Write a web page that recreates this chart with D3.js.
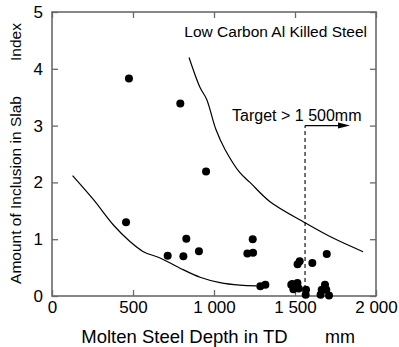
<!DOCTYPE html>
<html>
<head>
<meta charset="utf-8">
<script src="https://cdn.jsdelivr.net/npm/d3@7"></script>
<style>
  html, body { margin: 0; padding: 0; background: #fff; }
  svg { display: block; font-family: "Liberation Sans", Arial, sans-serif; }
</style>
</head>
<body>
<svg id="chart" width="399" height="347"></svg>
<script>
// ---- data ----
const depthMM = [475, 792, 951, 457, 714, 811, 829, 907, 1206, 1241, 1239, 1286, 1317,
  1477, 1490, 1515, 1523, 1516, 1529, 1568, 1566, 1607, 1658, 1665, 1685, 1693, 1710, 1696, 1483];
const inclusionIndex = [3.83, 3.39, 2.19, 1.30, 0.71, 0.70, 1.01, 0.79, 0.75, 0.76, 1.00, 0.17, 0.20,
  0.20, 0.12, 0.23, 0.13, 0.56, 0.61, 0.11, 0.02, 0.58, 0.02, 0.11, 0.20, 0.11, 0.01, 0.74, 0.21];

const upperCurveX = [846, 914, 955, 1012, 1068, 1160, 1222, 1346, 1562, 1735, 1920];
const upperCurveY = [4.20, 3.67, 3.46, 2.93, 2.58, 2.17, 2.00, 1.66, 1.29, 1.02, 0.78];

const lowerCurveX = [127, 255, 379, 481, 564, 667, 790, 914, 1037, 1160, 1263];
const lowerCurveY = [2.12, 1.70, 1.25, 0.96, 0.78, 0.67, 0.49, 0.33, 0.235, 0.19, 0.177];

const xTicks = [0, 500, 1000, 1500, 2000];
const yTicks = [0, 1, 2, 3, 4, 5];

const targetX = 1562;       // dashed line position
const targetTopY = 3.0;     // top of dashed line
const targetArrowEndX = 1840;

const titleText = "Low Carbon Al Killed Steel";
const targetText = "Target > 1 500mm";
const xTitle = "Molten Steel Depth in TD";
const xUnit = "mm";
const yTitle = "Amount of Inclusion in Slab";
const yUnit = "Index";

// ---- layout ----
const svg = d3.select("#chart");
const L = 52, R = 376, T = 12, B = 296;
const x = d3.scaleLinear().domain([0, 2000]).range([L, R]);
const y = d3.scaleLinear().domain([0, 5]).range([B, T]);

const loc = d3.formatLocale({decimal: ".", thousands: " ", grouping: [3], currency: ["", ""]});
const fmt = loc.format(",");

const frameColor = "#6a6a6a";

// axes
const gB = svg.append("g").attr("transform", `translate(0,${B})`)
  .call(d3.axisBottom(x).tickValues(xTicks).tickFormat(fmt).tickSizeInner(-6).tickSizeOuter(0).tickPadding(5));
const gL = svg.append("g").attr("transform", `translate(${L},0)`)
  .call(d3.axisLeft(y).tickValues(yTicks).tickFormat(d3.format("d")).tickSizeInner(-6).tickSizeOuter(0).tickPadding(9));
const gT = svg.append("g").attr("transform", `translate(0,${T})`)
  .call(d3.axisTop(x).tickValues(xTicks).tickFormat("").tickSizeInner(-6).tickSizeOuter(0));
const gR = svg.append("g").attr("transform", `translate(${R},0)`)
  .call(d3.axisRight(y).tickValues(yTicks).tickFormat("").tickSizeInner(-6).tickSizeOuter(0));

[gB, gL, gT, gR].forEach(g => {
  g.select(".domain").remove();
  g.selectAll(".tick line").attr("stroke", frameColor).attr("stroke-width", 1.3);
  g.selectAll(".tick text").attr("fill", "#000").attr("font-size", 17)
    .attr("font-family", '"Liberation Sans", Arial, sans-serif');
});

// frame
svg.append("rect").attr("x", L).attr("y", T).attr("width", R - L).attr("height", B - T)
  .attr("fill", "none").attr("stroke", frameColor).attr("stroke-width", 1.6);

// curves
const line = d3.line().x(d => x(d[0])).y(d => y(d[1])).curve(d3.curveCatmullRom.alpha(0.5));
svg.append("path").datum(upperCurveX.map((v, i) => [v, upperCurveY[i]]))
  .attr("d", line).attr("fill", "none").attr("stroke", "#000").attr("stroke-width", 1.2);
svg.append("path").datum(lowerCurveX.map((v, i) => [v, lowerCurveY[i]]))
  .attr("d", line).attr("fill", "none").attr("stroke", "#000").attr("stroke-width", 1.2);

// target dashed line and arrow
svg.append("line").attr("x1", x(targetX)).attr("x2", x(targetX))
  .attr("y1", y(0)).attr("y2", y(targetTopY))
  .attr("stroke", "#000").attr("stroke-width", 1.1).attr("stroke-dasharray", "4,3");
svg.append("line").attr("x1", x(targetX)).attr("x2", x(targetArrowEndX) - 8)
  .attr("y1", y(targetTopY)).attr("y2", y(targetTopY))
  .attr("stroke", "#000").attr("stroke-width", 1.1);
const ax = x(targetArrowEndX), ay = y(targetTopY);
svg.append("path").attr("d", `M${ax},${ay} L${ax - 12},${ay - 3} L${ax - 12},${ay + 3} Z`).attr("fill", "#000");

// points
svg.append("g").selectAll("circle").data(depthMM.map((v, i) => [v, inclusionIndex[i]]))
  .join("circle").attr("cx", d => x(d[0])).attr("cy", d => y(d[1])).attr("r", 4).attr("fill", "#000");

// texts
svg.append("text").attr("x", 367).attr("y", 36.5).attr("text-anchor", "end")
  .attr("font-size", 15.5).text(titleText);
svg.append("text").attr("x", 361.5).attr("y", 120.5).attr("text-anchor", "end")
  .attr("font-size", 16).text(targetText);
svg.append("text").attr("x", 184.5).attr("y", 343).attr("text-anchor", "middle")
  .attr("font-size", 18.5).text(xTitle);
svg.append("text").attr("x", 340).attr("y", 343).attr("text-anchor", "middle")
  .attr("font-size", 18).text(xUnit);
svg.append("text").attr("transform", "translate(21,190) rotate(-90)").attr("text-anchor", "middle")
  .attr("font-size", 15.5).text(yTitle);
svg.append("text").attr("transform", "translate(21,42) rotate(-90)").attr("text-anchor", "middle")
  .attr("font-size", 15.5).text(yUnit);
</script>
</body>
</html>
